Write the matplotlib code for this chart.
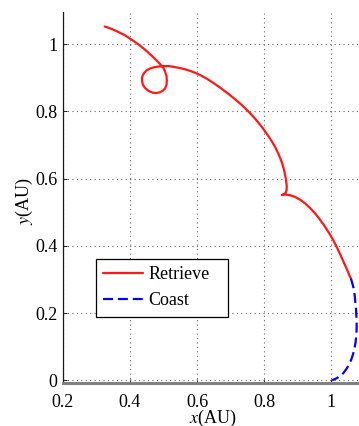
import matplotlib
matplotlib.use("Agg")
import matplotlib.pyplot as plt
from matplotlib.patches import Rectangle

plt.rcParams["font.family"] = ["Liberation Serif", "DejaVu Serif"]
plt.rcParams["mathtext.fontset"] = "stix"

# Retrieve leg (AU)
retrieve_x = [0.325, 0.345, 0.365, 0.385, 0.405, 0.425, 0.445, 0.465, 0.480, 0.490,
              0.499, 0.505, 0.509, 0.510, 0.509, 0.505, 0.498, 0.489, 0.479, 0.468,
              0.456, 0.446, 0.439, 0.436, 0.436, 0.441, 0.449, 0.460, 0.473, 0.487,
              0.500, 0.515, 0.530, 0.550, 0.570, 0.590, 0.610, 0.630, 0.650, 0.670,
              0.690, 0.710, 0.730, 0.750, 0.765, 0.780, 0.795, 0.810, 0.822, 0.833,
              0.843, 0.851, 0.857, 0.862, 0.865, 0.867, 0.866, 0.863, 0.852, 0.862,
              0.876, 0.891, 0.906, 0.921, 0.936, 0.951, 0.966, 0.981, 0.993, 1.005,
              1.015, 1.025, 1.034, 1.042, 1.049, 1.054, 1.058]
retrieve_y = [1.053, 1.046, 1.037, 1.027, 1.014, 1.000, 0.984, 0.966, 0.951, 0.941,
              0.931, 0.918, 0.905, 0.892, 0.880, 0.869, 0.862, 0.857, 0.855, 0.856,
              0.861, 0.869, 0.879, 0.890, 0.902, 0.913, 0.922, 0.928, 0.932, 0.934,
              0.935, 0.935, 0.933, 0.929, 0.924, 0.917, 0.908, 0.897, 0.884, 0.870,
              0.855, 0.839, 0.822, 0.803, 0.787, 0.770, 0.751, 0.730, 0.712, 0.693,
              0.672, 0.652, 0.633, 0.612, 0.594, 0.576, 0.565, 0.557, 0.551, 0.553,
              0.551, 0.546, 0.538, 0.527, 0.513, 0.497, 0.478, 0.457, 0.438, 0.418,
              0.398, 0.377, 0.357, 0.339, 0.323, 0.311, 0.303]

# Coast leg (AU)
coast_x = [1.058, 1.062, 1.066, 1.069, 1.071, 1.073, 1.074, 1.075, 1.075, 1.074,
           1.072, 1.069, 1.065, 1.059, 1.052, 1.044, 1.035, 1.025, 1.015, 1.002]
coast_y = [0.303, 0.289, 0.274, 0.254, 0.234, 0.214, 0.194, 0.175, 0.155, 0.135,
           0.115, 0.097, 0.080, 0.062, 0.046, 0.033, 0.021, 0.012, 0.006, 0.000]

xticks = [0.2, 0.4, 0.6, 0.8, 1.0]
xtick_labels = ["0.2", "0.4", "0.6", "0.8", "1"]
yticks = [0.0, 0.2, 0.4, 0.6, 0.8, 1.0]
ytick_labels = ["0", "0.2", "0.4", "0.6", "0.8", "1"]

FS = 13
W, H = 359, 426
fig = plt.figure(figsize=(W / 100, H / 100), dpi=100)
left, right, top, bottom = 62.7, 359.0, 11.7, 383.0
ax = fig.add_axes([left / W, (H - bottom) / H, (right - left) / W, (bottom - top) / H])

ax.plot(retrieve_x, retrieve_y, color="#ff1a1a", lw=1.6, solid_joinstyle="round",
        solid_capstyle="round", label="Retrieve", zorder=3)
ax.plot(coast_x, coast_y, color="#0000ff", lw=1.6, dashes=(4.5, 2.2),
        label="Coast", zorder=3)

ax.set_xlim(0.2, 1.082)
ax.set_ylim(-0.008, 1.097)
ax.set_xticks(xticks)
ax.set_xticklabels(xtick_labels)
ax.set_yticks(yticks)
ax.set_yticklabels(ytick_labels)
ax.tick_params(direction="in", length=3, width=0.6, labelsize=FS)
ax.tick_params(axis="x", pad=8)
ax.tick_params(axis="y", pad=4)

ax.grid(True, linestyle=(0, (1, 3)), color="0.4", lw=0.8)
ax.set_axisbelow(True)

for s in ("top", "right"):
    ax.spines[s].set_visible(False)
ax.spines["left"].set_color("0.1")
ax.spines["left"].set_linewidth(0.9)
ax.spines["bottom"].set_color("0.5")
ax.spines["bottom"].set_linewidth(2.2)

ax.set_xlabel("$x$(AU)", fontsize=FS)
ax.set_ylabel("$y$(AU)", fontsize=FS)
ax.xaxis.set_label_coords(0.507, -0.068)
ax.yaxis.set_label_coords(-0.095, 0.49)

# legend box (white, black edge) with the entries placed inside it
box = Rectangle((0.1124, 0.1778), 0.558 - 0.1124, 0.334 - 0.1778,
                transform=ax.transAxes, facecolor="white", edgecolor="black",
                lw=0.9, zorder=4)
ax.add_patch(box)
leg = ax.legend(loc="upper left", bbox_to_anchor=(0.1124, 0.334), borderaxespad=0,
                fontsize=FS, frameon=False, handlelength=2.2,
                handletextpad=0.3, labelspacing=0.5, borderpad=0.4)
leg.set_zorder(5)

fig.savefig("out.png", dpi=100)
